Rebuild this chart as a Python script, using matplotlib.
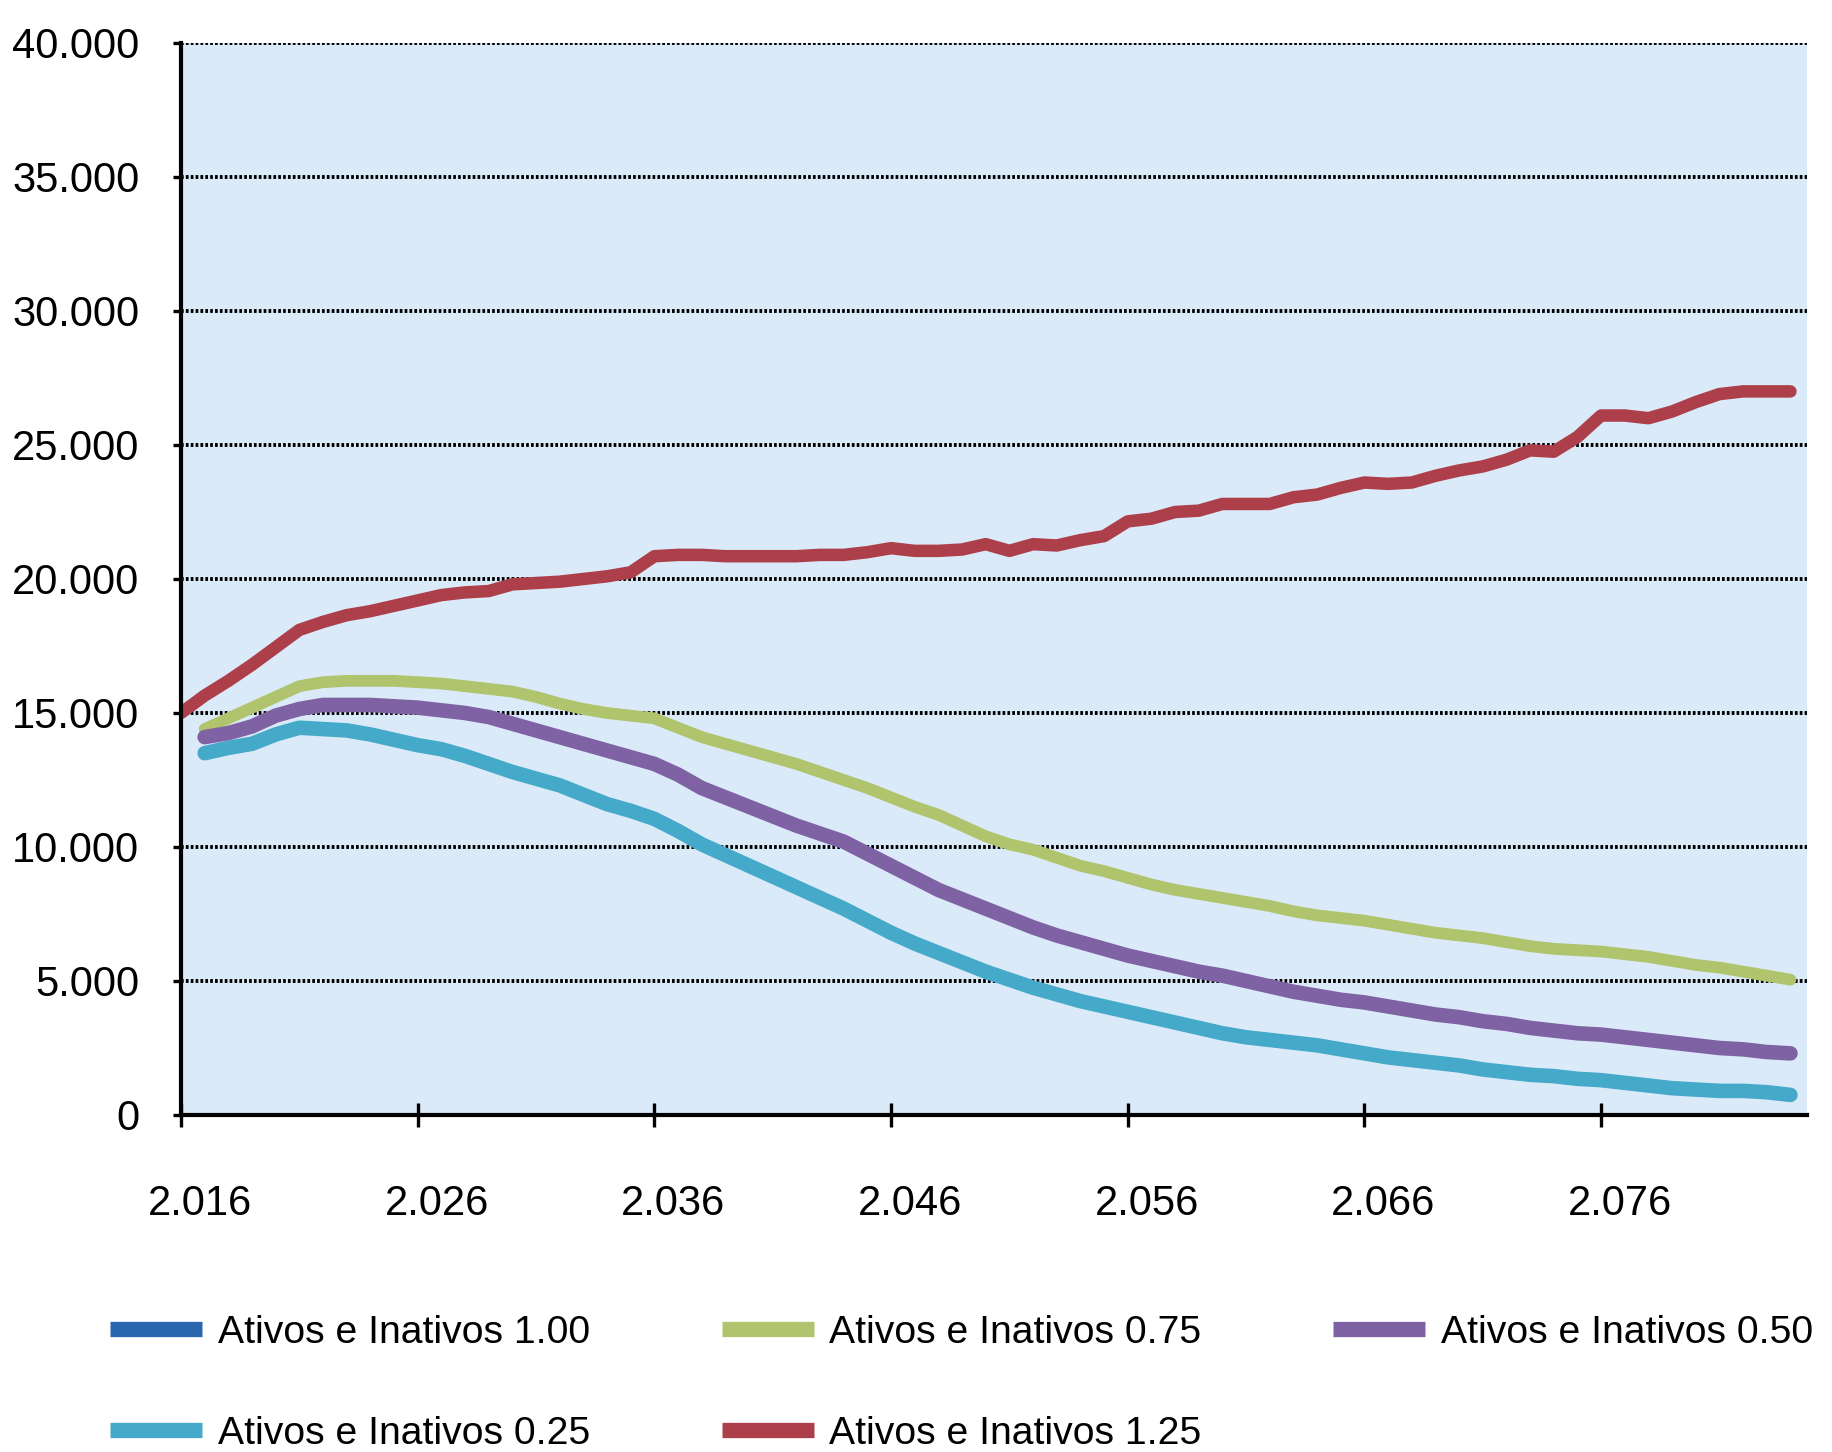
import numpy as np
import matplotlib.pyplot as plt
from matplotlib.lines import Line2D
from matplotlib.ticker import FuncFormatter, MultipleLocator
from matplotlib.transforms import ScaledTranslation

plt.rcParams['font.family'] = ['Liberation Sans', 'DejaVu Sans']

# Projeção anual (2016-2084)
anos_125 = list(range(2016, 2085))
anos = list(range(2017, 2085))
anos_ticks = list(range(2016, 2085, 10))

ativos_100 = []

ativos_075 = [14400, 14800, 15200, 15600, 16000, 16150, 16200, 16200, 16200, 16150,
              16100, 16000, 15900, 15800, 15600, 15350, 15150, 15000, 14900, 14800,
              14450, 14100, 13850, 13600, 13350, 13100, 12800, 12500, 12200, 11850,
              11500, 11200, 10800, 10400, 10100, 9900, 9600, 9300, 9100, 8850,
              8600, 8400, 8250, 8100, 7950, 7800, 7600, 7450, 7350, 7250,
              7100, 6950, 6800, 6700, 6600, 6450, 6300, 6200, 6150, 6100,
              6000, 5900, 5750, 5600, 5500, 5350, 5200, 5050]

ativos_050 = [14100, 14250, 14500, 14900, 15150, 15300, 15300, 15300, 15250, 15200,
              15100, 15000, 14850, 14600, 14350, 14100, 13850, 13600, 13350, 13100,
              12700, 12200, 11850, 11500, 11150, 10800, 10500, 10200, 9750, 9300,
              8850, 8400, 8050, 7700, 7350, 7000, 6700, 6450, 6200, 5950,
              5750, 5550, 5350, 5200, 5000, 4800, 4600, 4450, 4300, 4200,
              4050, 3900, 3750, 3650, 3500, 3400, 3250, 3150, 3050, 3000,
              2900, 2800, 2700, 2600, 2500, 2450, 2350, 2300]

ativos_025 = [13500, 13700, 13850, 14200, 14450, 14400, 14350, 14200, 14000, 13800,
              13650, 13400, 13100, 12800, 12550, 12300, 11950, 11600, 11350, 11050,
              10600, 10100, 9700, 9300, 8900, 8500, 8100, 7700, 7250, 6800,
              6400, 6050, 5700, 5350, 5050, 4750, 4500, 4250, 4050, 3850,
              3650, 3450, 3250, 3050, 2900, 2800, 2700, 2600, 2450, 2300,
              2150, 2050, 1950, 1850, 1700, 1600, 1500, 1450, 1350, 1300,
              1200, 1100, 1000, 950, 900, 900, 850, 750]

ativos_125 = [15000, 15650, 16200, 16800, 17450, 18100, 18400, 18650, 18800, 19000,
              19200, 19400, 19500, 19550, 19800, 19850, 19900, 20000, 20100, 20250,
              20850, 20900, 20900, 20850, 20850, 20850, 20850, 20900, 20900, 21000,
              21150, 21050, 21050, 21100, 21300, 21050, 21300, 21250, 21450, 21600,
              22150, 22250, 22500, 22550, 22800, 22800, 22800, 23050, 23150, 23400,
              23600, 23550, 23600, 23850, 24050, 24200, 24450, 24800, 24750, 25300,
              26100, 26100, 26000, 26250, 26600, 26900, 27000, 27000, 27000]

cores = {
    '1.00': '#2A66AF',
    '0.75': '#AFC46C',
    '0.50': '#7F62A4',
    '0.25': '#45A9C9',
    '1.25': '#AD3F4B',
}

fig = plt.figure(figsize=(18.32, 14.52), dpi=100)
ax = fig.add_axes([181 / 1832, 1 - 1115 / 1452, (1807 - 181) / 1832, (1115 - 43) / 1452])
ax.set_facecolor('#DBEAF8')

estilo = dict(solid_capstyle='round', solid_joinstyle='round')
ax.plot([], [], color=cores['1.00'], lw=8)
ax.plot(anos, ativos_075, color=cores['0.75'], lw=8.5, **estilo)
ax.plot(anos, ativos_050, color=cores['0.50'], lw=10.5, **estilo)
ax.plot(anos, ativos_025, color=cores['0.25'], lw=10.5, **estilo)
ax.plot(anos_125, ativos_125, color=cores['1.25'], lw=9, **estilo)

ax.set_xlim(2016, 2084.7)
ax.set_ylim(0, 40000)
ax.set_xticks(anos_ticks)
ax.yaxis.set_major_locator(MultipleLocator(5000))
milhar = FuncFormatter(lambda v, p: f"{int(round(v)):,}".replace(',', '.'))
ax.xaxis.set_major_formatter(milhar)
ax.yaxis.set_major_formatter(milhar)

ax.set_axisbelow(True)
ax.yaxis.grid(True, color='black', lw=2.8, linestyle=(0, (0.7, 0.55)))
ax.xaxis.grid(False)

for lado in ['top', 'right']:
    ax.spines[lado].set_visible(False)
for lado in ['left', 'bottom']:
    ax.spines[lado].set_linewidth(3)

ax.tick_params(axis='y', direction='out', length=6, width=2.4, pad=24, labelsize=30)
ax.tick_params(axis='x', direction='inout', length=17, width=2.4, pad=41, labelsize=30)

# rótulos dos anos levemente deslocados para a direita
desloc = ScaledTranslation(0.19, 0, fig.dpi_scale_trans)
for rot in ax.get_xticklabels():
    rot.set_transform(rot.get_transform() + desloc)

# legenda em 3 colunas, preenchida por linha
rotulos = ['1.00', '0.25', '0.75', '1.25', '0.50']
handles = [Line2D([], [], color=cores[r], lw=11, solid_capstyle='butt') for r in rotulos]
labels = ['Ativos e Inativos ' + r for r in rotulos]
fig.legend(handles, labels, ncol=3, loc='upper left', bbox_to_anchor=(110 / 1832, 1 - 1315 / 1452),
           frameon=False, fontsize=28.2, handlelength=2.35, handletextpad=0.4,
           columnspacing=3.36, labelspacing=1.65, borderaxespad=0, borderpad=0)

fig.savefig('out.png', dpi=100)
